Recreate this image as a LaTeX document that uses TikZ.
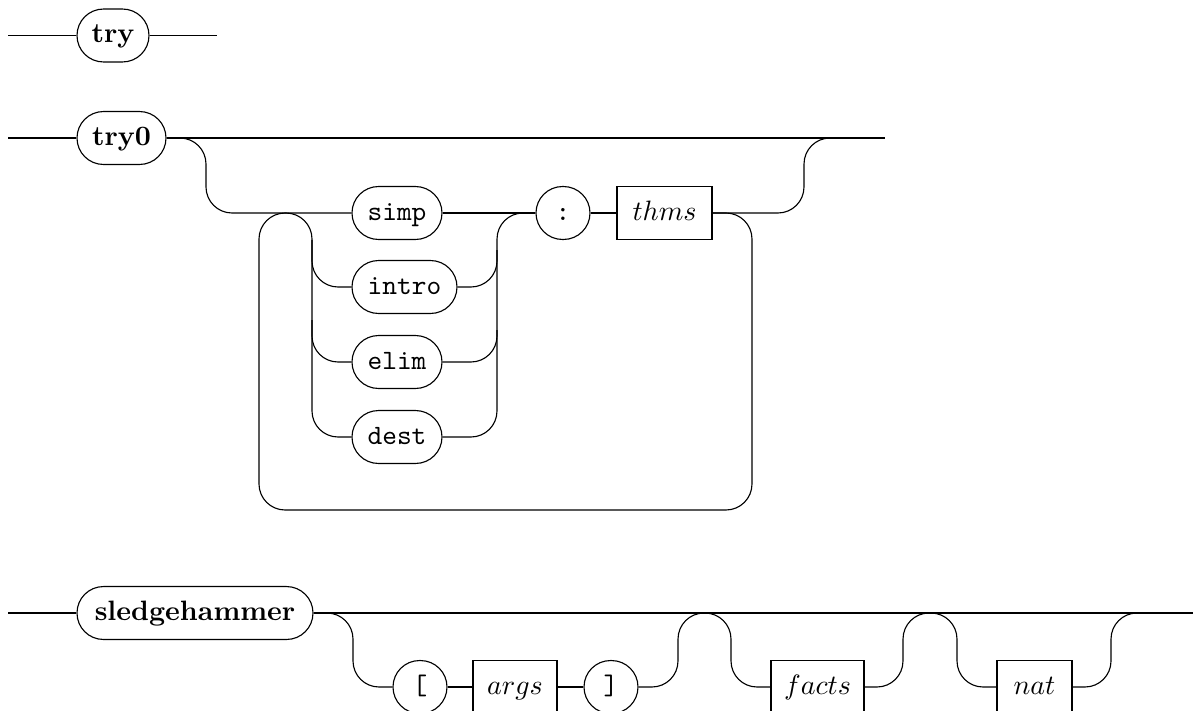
\documentclass[tikz,border=0pt]{standalone}
\begin{document}
\begin{tikzpicture}[x=0.357pt,y=-0.357pt,line width=0.4pt]
\tikzset{
  rc/.style={rounded corners=9.3pt},
  wd/.style={minimum width=#1*0.357pt},
  term/.style={draw, rectangle, rounded corners=9.45pt, minimum height=18.9pt, inner xsep=0pt, inner ysep=0pt, text height=7.2pt, text depth=2pt},
  nonterm/.style={draw, rectangle, minimum height=19.2pt, inner xsep=0pt, inner ysep=0pt, text height=7.2pt, text depth=2pt},
}
\clip (0,0) rectangle (1198,710);
\useasboundingbox (0,0) rectangle (1198,710);

% ---- row 1: try
\node[term, wd=72] (try) at (113,35.5) {\textbf{try}};
\coordinate (s1) at (8,35.5);
\coordinate (e1) at (217,35.5);
\draw (s1) -- (try.west);
\draw (try.east) -- (e1);

% ---- row 2: try0
\node[term, wd=89] (try0) at (121.5,138) {\textbf{try0}};
\node[term, wd=90] (simp) at (397,213) {\texttt{simp}};
\node[term, wd=105] (intro) at (404.5,287) {\texttt{intro}};
\node[term, wd=90] (elim) at (397,362) {\texttt{elim}};
\node[term, wd=90] (dest) at (397,437) {\texttt{dest}};
\node[term, wd=54] (colon) at (563,213) {\texttt{:}};
\node[nonterm, wd=95] (thms) at (664.5,213) {$thms$};
\coordinate (s2) at (8,138);
\coordinate (e2) at (885,138);

\draw (s2) -- (try0.west);
\draw (try0.east) -- (e2);
\draw[rc] (try0.east) -- (206,138) -- (206,213) -- (simp.west);
\draw (simp.east) -- (colon.west);
\draw (colon.east) -- (thms.west);
% loop back
\draw[rc] (thms.east) -- (752,213) -- (752,510) -- (259,510) -- (259,213) -- (312,213) -- (312,437) -- (dest.west);
\draw[rc] (312,240) -- (312,287) -- (intro.west);
\draw[rc] (312,320) -- (312,362) -- (elim.west);
% right rail of choice
\draw[rc] (dest.east) -- (497,437) -- (497,213) -- (colon.west);
\draw[rc] (intro.east) -- (497,287) -- (497,250);
\draw[rc] (elim.east) -- (497,362) -- (497,330);
% back to top line
\draw[rc] (thms.east) -- (804,213) -- (804,138) -- (860,138);

% ---- row 3: sledgehammer
\node[term, wd=236] (sh) at (195,613) {\textbf{sledgehammer}};
\node[term, wd=54] (lb) at (420,687) {\texttt{[}};
\node[nonterm, wd=84] (args) at (515,687) {$args$};
\node[term, wd=54] (rb) at (611,687) {\texttt{]}};
\node[nonterm, wd=93] (facts) at (817.5,687) {$facts$};
\node[nonterm, wd=75] (nat) at (1034.5,687) {$nat$};
\coordinate (s3) at (8,613);
\coordinate (e3) at (1193,613);

\draw (s3) -- (sh.west);
\draw (sh.east) -- (e3);
\draw[rc] (sh.east) -- (353,613) -- (353,687) -- (lb.west);
\draw (lb.east) -- (args.west);
\draw (args.east) -- (rb.west);
\draw[rc] (rb.east) -- (678,687) -- (678,613) -- (731,613) -- (731,687) -- (facts.west);
\draw[rc] (facts.east) -- (903,687) -- (903,613) -- (957,613) -- (957,687) -- (nat.west);
\draw[rc] (nat.east) -- (1111,687) -- (1111,613) -- (1160,613);
\end{tikzpicture}
\end{document}
